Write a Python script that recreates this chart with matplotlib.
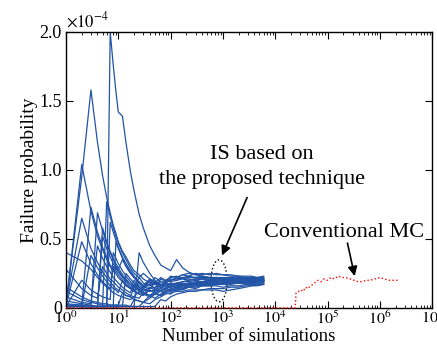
import matplotlib
matplotlib.use("Agg")
import matplotlib.pyplot as plt
from matplotlib.patches import Ellipse
from matplotlib.ticker import LogLocator, NullFormatter

plt.rcParams['font.family'] = ['Liberation Serif', 'DejaVu Serif']
plt.rcParams['mathtext.fontset'] = 'stix'

n_grid = [1, 2, 3, 4, 5, 6, 7, 8, 9, 10,
          12, 14, 17, 20, 25, 30, 40, 50, 65, 80,
          100, 130, 170, 220, 300, 400, 550, 750,
          1000, 1400, 2000, 2700, 3500, 4500, 6000]

# IS runs, failure probability in units of 1e-6
run_a = [2, 1, 1, 1, 1, 1, 200, 176, 157, 142, 139, 120, 99, 85, 68, 58, 45, 38, 31, 29,
         27, 35, 29, 26, 24, 23, 22, 22, 21, 21, 20, 21, 20, 20, 20]
run_b = [3, 95, 158, 120, 96, 80, 69, 60, 54, 48, 41, 37, 31, 27, 24, 21, 18, 17, 19, 18,
         17, 18, 19, 19, 20, 19, 20, 21, 20, 20, 21, 21, 21, 21, 21]
run_c = [1, 104, 70, 52, 42, 35, 30, 26, 30, 27, 23, 20, 17, 15, 13, 15, 14, 15, 16, 15,
         16, 17, 16, 17, 18, 18, 19, 19, 18, 19, 19, 19, 19, 19, 19]
run_d = [2, 1, 1, 1, 1, 77, 66, 58, 52, 47, 40, 35, 29, 25, 22, 25, 21, 19, 17, 16,
         17, 18, 17, 18, 18, 19, 19, 18, 19, 19, 19, 20, 20, 20, 20]
run_e = [1, 1, 1, 69, 56, 47, 40, 35, 31, 28, 35, 30, 25, 22, 18, 15, 17, 22, 19, 17,
         15, 16, 18, 17, 18, 18, 19, 20, 20, 20, 20, 20, 20, 20, 20]
run_f = [2, 2, 73, 55, 44, 37, 31, 28, 25, 22, 19, 16, 14, 20, 16, 14, 12, 13, 15, 14,
         16, 15, 16, 17, 17, 18, 18, 18, 19, 19, 18, 19, 19, 19, 19]
run_g = [40, 34, 28, 22, 18, 15, 13, 11, 10, 9, 8, 7, 6, 8, 7, 11, 9, 11, 13, 14,
         13, 15, 16, 17, 17, 17, 18, 18, 18, 18, 18, 18, 18, 18, 18]
run_h = [8, 4, 3, 45, 36, 30, 26, 22, 20, 18, 15, 13, 11, 17, 14, 12, 15, 13, 17, 16,
         18, 17, 19, 20, 21, 21, 21, 22, 22, 22, 22, 22, 22, 22, 22]
run_i = [1, 48, 32, 24, 19, 16, 14, 30, 27, 24, 20, 17, 14, 12, 10, 14, 17, 14, 21, 19,
         23, 22, 24, 23, 25, 24, 25, 24, 24, 23, 23, 22, 22, 22, 22]
run_j = [2, 1, 1, 1, 52, 43, 37, 32, 29, 26, 22, 19, 15, 13, 10, 9, 13, 11, 9, 12,
         14, 15, 14, 16, 17, 17, 17, 17, 18, 18, 18, 18, 18, 19, 19]
run_k = [1, 1, 1, 1, 1, 1, 1, 1, 48, 43, 36, 31, 26, 22, 18, 15, 19, 17, 16, 20,
         19, 20, 21, 20, 21, 21, 20, 21, 21, 21, 20, 20, 20, 20, 20]
run_l = [28, 14, 9, 7, 30, 25, 21, 19, 17, 15, 13, 11, 9, 8, 12, 10, 8, 10, 12, 11,
         13, 12, 14, 15, 15, 16, 16, 17, 17, 17, 18, 18, 18, 18, 18]
run_m = [1, 1, 38, 29, 23, 19, 16, 14, 13, 11, 20, 17, 14, 12, 19, 16, 20, 18, 22, 20,
         22, 23, 21, 22, 22, 23, 22, 22, 21, 22, 22, 22, 21, 21, 22]
run_n = [1, 1, 1, 1, 1, 1, 1, 1, 1, 1, 1, 1, 1, 1, 1, 4, 3, 6, 8, 10,
         11, 12, 12, 13, 13, 13, 14, 14, 14, 15, 15, 16, 16, 17, 17]
run_o = [1, 1, 1, 1, 1, 1, 1, 1, 1, 1, 1, 25, 21, 18, 15, 13, 12, 13, 12, 14,
         15, 16, 17, 17, 18, 19, 19, 19, 20, 20, 19, 19, 20, 20, 20]
run_p = [3, 2, 1, 1, 1, 1, 62, 55, 49, 44, 37, 32, 27, 23, 19, 16, 21, 18, 16, 19,
         21, 20, 22, 21, 20, 21, 21, 20, 20, 21, 21, 21, 21, 21, 21]
run_q = [15, 8, 5, 4, 3, 3, 2, 2, 2, 2, 2, 2, 1, 6, 5, 4, 7, 10, 9, 11,
         10, 13, 14, 15, 16, 16, 16, 16, 15, 16, 16, 17, 17, 17, 17]
run_r = [1, 1, 1, 1, 58, 48, 41, 36, 32, 29, 24, 21, 17, 15, 22, 18, 16, 18, 16, 18,
         20, 21, 22, 23, 22, 22, 22, 21, 21, 21, 21, 21, 21, 21, 21]
run_s = [1, 20, 13, 10, 8, 7, 6, 40, 36, 32, 27, 23, 19, 16, 13, 11, 9, 12, 14, 13,
         12, 14, 15, 16, 16, 17, 17, 18, 18, 18, 19, 19, 19, 19, 19]
run_t = [1, 1, 1, 1, 1, 1, 1, 1, 1, 1, 1, 1, 1, 1, 1, 1, 1, 1, 6, 5,
         8, 10, 11, 12, 12, 13, 13, 13, 12, 13, 14, 15, 16, 16, 17]
run_u = [3, 65, 43, 33, 26, 22, 19, 16, 14, 13, 11, 9, 8, 15, 12, 10, 14, 18, 16, 19,
         20, 22, 24, 25, 24, 25, 24, 25, 24, 24, 23, 23, 23, 22, 23]
run_v = [5, 3, 2, 1, 1, 1, 1, 1, 1, 1, 1, 1, 1, 1, 40, 33, 25, 20, 17, 16,
         18, 17, 16, 18, 19, 19, 20, 20, 20, 20, 20, 21, 21, 21, 20]
run_w = [12, 6, 4, 3, 2, 2, 2, 2, 2, 2, 11, 9, 8, 6, 5, 4, 9, 7, 10, 13,
         12, 14, 13, 15, 14, 16, 17, 18, 19, 19, 19, 20, 20, 19, 20]

is_runs = [run_a, run_b, run_c, run_d, run_e, run_f, run_g, run_h, run_i, run_j, run_k,
           run_l, run_m, run_n, run_o, run_p, run_q, run_r, run_s, run_t, run_u,
           run_v, run_w]

# conventional Monte Carlo, units of 1e-6
mc_n = [1, 2.4e4, 2.5e4, 2.8e4, 3.1e4, 3.4e4, 3.8e4, 4.2e4, 4.7e4, 5.3e4, 6.0e4,
        6.6e4, 7.5e4, 8.5e4, 1.0e5, 1.15e5, 1.35e5, 1.6e5, 1.9e5, 2.2e5, 2.7e5,
        3.2e5, 3.8e5, 4.5e5, 5.5e5, 6.5e5, 8e5, 1e6, 1.2e6, 1.5e6, 1.8e6, 2.2e6]
mc_p = [0, 0, 11, 12, 13, 12, 15, 14, 16, 17, 19,
        20, 19, 21, 20, 22, 21, 23, 22, 22, 21,
        20, 19, 19, 20, 20, 21, 22, 21, 20, 20, 20]

fig = plt.figure(figsize=(4.37, 3.44), dpi=100)
ax = fig.add_axes([0.151, 0.105, 0.838, 0.802])

for run in is_runs:
    ax.plot(n_grid, [v / 100 for v in run], '-', color='#2153a6', linewidth=0.9)

ax.plot(mc_n, [v / 100 for v in mc_p], ':', color='red', linewidth=1.0,
        clip_on=False, zorder=3)

ax.set_xscale('log')
ax.set_xlim(1, 1e7)
ax.set_ylim(0, 2.0)
ax.set_xticks([10 ** k for k in range(8)])
ax.set_xticklabels([r'$10^{%d}$' % k for k in range(8)])
ax.xaxis.set_minor_locator(LogLocator(base=10, subs=range(2, 10), numticks=20))
ax.xaxis.set_minor_formatter(NullFormatter())
ax.set_yticks([0, 0.5, 1.0, 1.5, 2.0])
ax.set_yticklabels(['0', '0.5', '1.0', '1.5', '2.0'])

ax.tick_params('both', which='major', direction='in', length=5, width=0.8,
               top=True, right=True, labelsize=13, pad=3)
ax.tick_params('x', which='major', labelsize=11.5, pad=2)
ax.tick_params('both', which='minor', direction='in', length=2.5, width=0.6,
               top=True, right=True)
for s in ax.spines.values():
    s.set_linewidth(1.0)

ax.set_xlabel('Number of simulations', fontsize=13.5, labelpad=0)
ax.set_ylabel('Failure probability', fontsize=14, labelpad=1)
ax.text(0.0, 1.005, r'$\times10^{-4}$', transform=ax.transAxes, fontsize=12,
        ha='left', va='bottom')

# dotted ellipse around the IS runs
ax.add_patch(Ellipse((0.418, 0.098), 0.044, 0.152, transform=ax.transAxes,
                     fill=False, linestyle=':', edgecolor='black', linewidth=1.0))

ax.text(5600, 1.02, 'IS based on\nthe proposed technique', fontsize=16,
        ha='center', va='center', linespacing=1.4)
ax.annotate('', xy=(960, 0.38), xytext=(2900, 0.80),
            arrowprops=dict(arrowstyle='-|>', color='black', lw=1.2,
                            mutation_scale=14, shrinkA=0, shrinkB=0))
ax.text(2.1e5, 0.55, 'Conventional MC', fontsize=16, ha='center', va='center')
ax.annotate('', xy=(3.3e5, 0.23), xytext=(2.4e5, 0.47),
            arrowprops=dict(arrowstyle='-|>', color='black', lw=1.2,
                            mutation_scale=14, shrinkA=0, shrinkB=0))

fig.savefig('out.png', dpi=100)
